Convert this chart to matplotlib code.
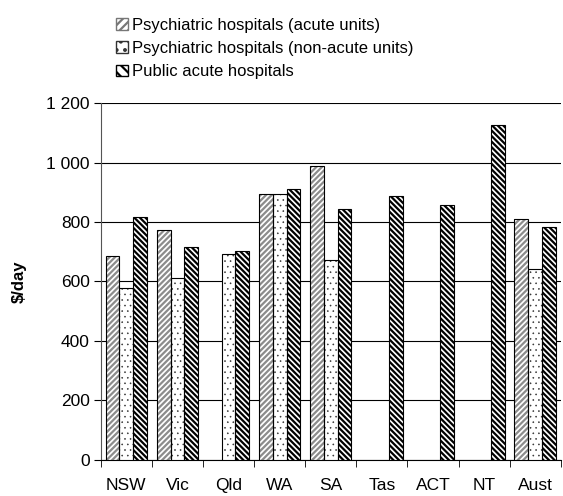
import numpy as np
import matplotlib.pyplot as plt
from matplotlib.patches import Patch

plt.rcParams['font.family'] = ['Liberation Sans', 'DejaVu Sans']
plt.rcParams['hatch.linewidth'] = 1.6

states = ["NSW", "Vic", "Qld", "WA", "SA", "Tas", "ACT", "NT", "Aust"]
psych_acute = [686, 773, np.nan, 894, 988, np.nan, np.nan, np.nan, 810]
psych_nonacute = [578, 612, 692, 896, 672, np.nan, np.nan, np.nan, 643]
public_acute = [817, 716, 703, 910, 843, 887, 857, 1125, 785]

labels = ["Psychiatric hospitals (acute units)",
          "Psychiatric hospitals (non-acute units)",
          "Public acute hospitals"]

fig = plt.figure(figsize=(5.63, 4.96), dpi=100)
ax = fig.add_axes([0.179, 0.073, 0.817, 0.719])

x = np.arange(len(states))
w = 0.27

# acute units: grey diagonal hatch, black outline drawn on top
ax.bar(x - w, psych_acute, w, color="white", edgecolor="#8c8c8c", hatch="//////", linewidth=0, zorder=3)
ax.bar(x - w, psych_acute, w, fill=False, edgecolor="black", linewidth=0.8, zorder=4)

# non-acute units: sparse small dots (thin hatch line -> small dots)
with plt.rc_context({'hatch.linewidth': 0.4}):
    ax.bar(x, psych_nonacute, w, color="white", edgecolor="#333333", hatch="...", linewidth=0, zorder=3)
    dot_handle = Patch(facecolor="white", edgecolor="#333333", hatch="..")
ax.bar(x, psych_nonacute, w, fill=False, edgecolor="black", linewidth=0.8, zorder=4)

# public acute: dense black back-diagonal
ax.bar(x + w, public_acute, w, color="white", edgecolor="black", hatch="\\\\\\\\\\\\", linewidth=0.8, zorder=3)

ax.set_ylim(0, 1200)
ax.set_xlim(-0.5, len(states) - 0.5)
ax.set_yticks(range(0, 1201, 200))
ax.set_yticklabels(["0", "200", "400", "600", "800", "1 000", "1 200"])
ax.yaxis.grid(True, color="black", linewidth=0.8, zorder=0)
ax.set_axisbelow(True)

ax.set_xticks(x)
ax.set_xticklabels(states)
ax.set_xticks(np.arange(-0.5, len(states), 1), minor=True)
ax.tick_params(axis="x", which="major", length=0, pad=13, labelsize=12.5)
ax.tick_params(axis="x", which="minor", length=5, direction="out", color="black")
ax.tick_params(axis="y", length=5, direction="out", labelsize=12.5, pad=3)

ax.spines["top"].set_visible(False)
ax.spines["right"].set_visible(False)
ax.spines["left"].set_color("#555555")
ax.spines["bottom"].set_color("black")

ax.set_ylabel("$/day", fontweight="bold", fontsize=12, labelpad=14)

handles = [Patch(facecolor="white", edgecolor="#777777", hatch="////"),
           dot_handle,
           Patch(facecolor="white", edgecolor="black", hatch="\\\\\\")]
fig.legend(handles, labels, loc="upper left", bbox_to_anchor=(0.195, 0.978),
           frameon=False, fontsize=12, handlelength=0.7, handleheight=0.7,
           handletextpad=0.25, labelspacing=0.5, borderaxespad=0)

fig.savefig("out.png", dpi=100)
